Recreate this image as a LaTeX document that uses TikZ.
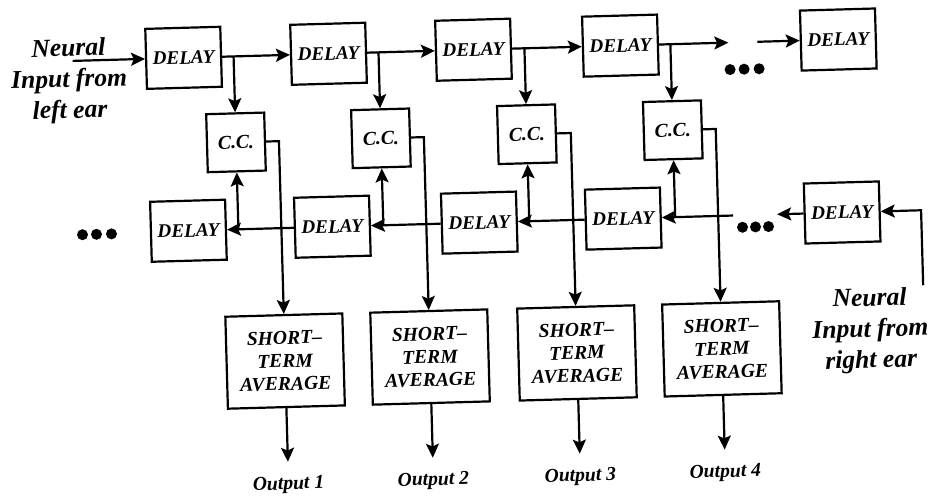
\documentclass[tikz,border=0pt]{standalone}
\usepackage{fontspec}
\setmainfont{Liberation Serif}
\usetikzlibrary{arrows.meta}

\newcommand{\bifont}[2]{\bfseries\itshape\fontsize{#1}{#2}\selectfont}

\begin{document}
\begin{tikzpicture}[x=0.5pt, y=-0.5pt, line width=1.1pt,
    >={Stealth[length=7pt, width=6.5pt, inset=1.4pt]},
    dly/.style={draw, minimum width=37.5pt, minimum height=30pt, inner sep=0pt, font=\bifont{9.6}{11.5}},
    ccbox/.style={draw, minimum width=29pt, minimum height=29pt, inner sep=0pt, font=\bifont{9.8}{11.5}},
    avg/.style={draw, minimum width=58.5pt, minimum height=46pt, inner sep=0pt, align=center, font=\bifont{9.8}{11.5}},
    ear/.style={align=center, font=\bifont{12.8}{15.5}},
    outlbl/.style={outer sep=4pt, font=\bifont{9.8}{11}}]
  \useasboundingbox (0,0) rectangle (933,497);
  \begin{scope}[rotate around={1.6:(466,248)}, transform shape]
  % 위쪽 지연선
  \node[dly] (d1) at (189,50) {DELAY};
  \node[dly] (d2) at (334,50) {DELAY};
  \node[dly] (d3) at (479,50) {DELAY};
  \node[dly] (d4) at (626,50) {DELAY};
  \node[dly] (d5) at (844,50) {DELAY};
  \node[ear] (lear) at (74,70) {Neural\\Input from\\left ear};
  \coordinate (lsrc) at (78,50);
  \coordinate (t1) at (734,50);
  \coordinate (t2) at (763,50);
  \draw[->] (lsrc) -- (d1);
  \draw[->] (d1) -- (d2);
  \draw[->] (d2) -- (d3);
  \draw[->] (d3) -- (d4);
  \draw[->] (d4) -- (t1);
  \draw[->] (t2) -- (d5);
  \fill (735,77) circle[radius=5.5] (749,77) circle[radius=5.5] (764,77) circle[radius=5.5];
  % 상호상관(C.C.)
  \node[ccbox] (c1) at (239,136) {C.C.};
  \node[ccbox] (c2) at (384,136) {C.C.};
  \node[ccbox] (c3) at (530,136) {C.C.};
  \node[ccbox] (c4) at (676,136) {C.C.};
  \draw[->] (d1.east -| c1) -- (c1);
  \draw[->] (d2.east -| c2) -- (c2);
  \draw[->] (d3.east -| c3) -- (c3);
  \draw[->] (d4.east -| c4) -- (c4);
  % 아래쪽 지연선
  \node[dly] (b1) at (189,223) {DELAY};
  \node[dly] (b2) at (333,223) {DELAY};
  \node[dly] (b3) at (480,223) {DELAY};
  \node[dly] (b4) at (624,223) {DELAY};
  \node[dly] (b5) at (843,223) {DELAY};
  \node[ear] (rear) at (868,342) {Neural\\Input from\\right ear};
  \coordinate (rsrc) at (922,298);
  \coordinate (u1) at (778,223);
  \coordinate (u2) at (734,223);
  \draw[->] (rsrc) |- (b5);
  \draw[->] (b5) -- (u1);
  \draw[->] (u2) -- (b4);
  \draw[->] (b4) -- (b3);
  \draw[->] (b3) -- (b2);
  \draw[->] (b2) -- (b1);
  \draw[->] (b4.east -| c4) -- (c4);
  \draw[->] (b3.east -| c3) -- (c3);
  \draw[->] (b2.east -| c2) -- (c2);
  \draw[->] (b1.east -| c1) -- (c1);
  \fill (743,235) circle[radius=5.5] (756,235) circle[radius=5.5] (769,235) circle[radius=5.5];
  \fill (83,224) circle[radius=5.5] (97,224) circle[radius=5.5] (112,224) circle[radius=5.5];
  % 단기 평균
  \node[avg] (s1) at (282,356) {SHORT--\\TERM\\AVERAGE};
  \node[avg] (s2) at (427,356) {SHORT--\\TERM\\AVERAGE};
  \node[avg] (s3) at (574,356) {SHORT--\\TERM\\AVERAGE};
  \node[avg] (s4) at (719,356) {SHORT--\\TERM\\AVERAGE};
  \draw[->] (c1) -| (s1);
  \draw[->] (c2) -| (s2);
  \draw[->] (c3) -| (s3);
  \draw[->] (c4) -| (s4);
  % 출력
  \node[outlbl] (o1) at (282,480) {Output 1};
  \node[outlbl] (o2) at (427,480) {Output 2};
  \node[outlbl] (o3) at (574,480) {Output 3};
  \node[outlbl] (o4) at (719,480) {Output 4};
  \draw[->] (s1) -- (o1);
  \draw[->] (s2) -- (o2);
  \draw[->] (s3) -- (o3);
  \draw[->] (s4) -- (o4);
  \end{scope}
\end{tikzpicture}
\end{document}
